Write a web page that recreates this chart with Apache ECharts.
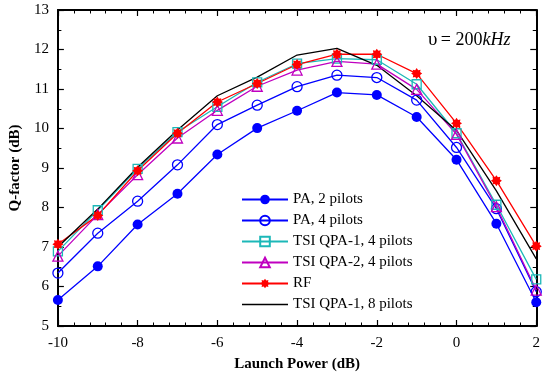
<!DOCTYPE html>
<html>
<head>
<meta charset="utf-8">
<script src="https://cdn.jsdelivr.net/npm/echarts@6/dist/echarts.min.js"></script>
<style>
  html, body { margin: 0; padding: 0; background: #fff; }
  #chart { width: 543px; height: 377px; }
</style>
</head>
<body>
<div id="chart"></div>
<script>
// Launch power (dB) on x, Q-factor (dB) on y
const launchPower = [-10, -9, -8, -7, -6, -5, -4, -3, -2, -1, 0, 1, 2];
const pa2 = [5.66, 6.51, 7.57, 8.35, 9.34, 10.01, 10.45, 10.91, 10.85, 10.29, 9.21, 7.59, 5.6];
const pa4 = [6.34, 7.35, 8.16, 9.08, 10.1, 10.59, 11.06, 11.35, 11.29, 10.72, 9.52, 7.97, 5.87];
const qpa1Pilots4 = [6.89, 7.93, 8.98, 9.91, 10.55, 11.17, 11.64, 11.77, 11.74, 11.12, 9.88, 8.07, 6.18];
const qpa2Pilots4 = [6.77, 7.82, 8.83, 9.76, 10.46, 11.07, 11.48, 11.7, 11.63, 10.99, 9.85, 8.02, 5.91];
const rf = [7.07, 7.8, 8.93, 9.88, 10.67, 11.14, 11.62, 11.88, 11.88, 11.39, 10.13, 8.68, 7.02];
const qpa1Pilots8 = [7.0, 7.96, 9.02, 9.96, 10.83, 11.3, 11.86, 12.03, 11.6, 10.83, 9.95, 8.42, 6.7];

const FONT = '"Liberation Serif", "DejaVu Serif", serif';
const STAR = 'path://M0,-10L2.7,-6.2L7.07,-7.07L6.2,-2.7L10,0L6.2,2.7L7.07,7.07L2.7,6.2L0,10L-2.7,6.2L-7.07,7.07L-6.2,2.7L-10,0L-6.2,-2.7L-7.07,-7.07L-2.7,-6.2Z';
const LINE_ICON = 'path://M0,0L100,0L100,3L0,3Z';

function pairs(ys) {
  return launchPower.map((x, i) => [x, ys[i]]);
}

function makeSeries(name, ys, color, symbol, size, hollow) {
  return {
    name: name,
    type: 'line',
    data: pairs(ys),
    symbol: symbol,
    symbolSize: size,
    showSymbol: symbol !== 'none',
    lineStyle: { color: color, width: 1.3 },
    itemStyle: hollow
      ? { color: 'rgba(255,255,255,0)', borderColor: color, borderWidth: 1.3 }
      : { color: color, borderWidth: 0 },
    emphasis: { disabled: true },
    animation: false,
    z: 3
  };
}

const series = [
  makeSeries('PA, 2 pilots', pa2, '#0000ff', 'circle', 10, false),
  makeSeries('PA, 4 pilots', pa4, '#0000ff', 'circle', 10, true),
  makeSeries('TSI QPA-1, 4 pilots', qpa1Pilots4, '#1cb8b8', 'rect', 9, true),
  makeSeries('TSI QPA-2, 4 pilots', qpa2Pilots4, '#c000c0', 'triangle', 10, true),
  makeSeries('RF', rf, '#ff0000', STAR, 11, false),
  makeSeries('TSI QPA-1, 8 pilots', qpa1Pilots8, '#000000', 'none', 0, false)
];

const axisCommon = {
  axisLine: { onZero: false, lineStyle: { color: '#000', width: 2 } },
  axisTick: { inside: true, length: 6, lineStyle: { color: '#000', width: 1.2 } },
  minorTick: { show: true, length: 3.5, lineStyle: { color: '#000', width: 1 } },
  splitLine: { show: false }
};

const legendData = series.map(s => (
  s.symbol === 'none'
    ? { name: s.name, icon: LINE_ICON, itemStyle: { color: '#000' } }
    : { name: s.name }
));

const option = {
  backgroundColor: '#fff',
  animation: false,
  grid: { left: 55, right: 5, top: 10, bottom: 47 },
  legend: {
    orient: 'vertical',
    left: 236,
    top: 187,
    itemWidth: 46,
    itemHeight: 12,
    itemGap: 6,
    selectedMode: false,
    textStyle: { fontFamily: FONT, fontSize: 15, color: '#000' },
    data: legendData
  },
  xAxis: [
    Object.assign({}, axisCommon, {
      type: 'value', min: -10, max: 2, interval: 2,
      minorTick: Object.assign({}, axisCommon.minorTick, { splitNumber: 5 }),
      axisLabel: { fontFamily: FONT, fontSize: 15, color: '#000', margin: 10 },
      name: 'Launch Power (dB)', nameLocation: 'middle', nameGap: 31,
      nameTextStyle: { fontFamily: FONT, fontSize: 15, fontWeight: 'bold', color: '#000' }
    }),
    Object.assign({}, axisCommon, {
      type: 'value', min: -10, max: 2, interval: 2, position: 'top',
      minorTick: Object.assign({}, axisCommon.minorTick, { splitNumber: 5 }),
      axisLabel: { show: false }
    })
  ],
  yAxis: [
    Object.assign({}, axisCommon, {
      type: 'value', min: 5, max: 13, interval: 1,
      minorTick: Object.assign({}, axisCommon.minorTick, { splitNumber: 2 }),
      axisLabel: { fontFamily: FONT, fontSize: 15, color: '#000', margin: 9 },
      name: 'Q-factor (dB)', nameLocation: 'middle', nameGap: 32,
      nameTextStyle: { fontFamily: FONT, fontSize: 15, fontWeight: 'bold', color: '#000' }
    }),
    Object.assign({}, axisCommon, {
      type: 'value', min: 5, max: 13, interval: 1, position: 'right',
      minorTick: Object.assign({}, axisCommon.minorTick, { splitNumber: 2 }),
      axisLabel: { show: false }
    })
  ],
  graphic: [
    {
      type: 'text',
      left: 428,
      top: 31,
      style: {
        text: '{u|υ} {n|= 200}{i|kHz}',
        rich: {
          u: { fontFamily: FONT, fontSize: 19, fill: '#000' },
          n: { fontFamily: FONT, fontSize: 18, fill: '#000' },
          i: { fontFamily: FONT, fontSize: 18, fontStyle: 'italic', fill: '#000' }
        }
      }
    }
  ],
  series: series
};

const chart = echarts.init(document.getElementById('chart'), null, { renderer: 'canvas' });
chart.setOption(option);
</script>
</body>
</html>
